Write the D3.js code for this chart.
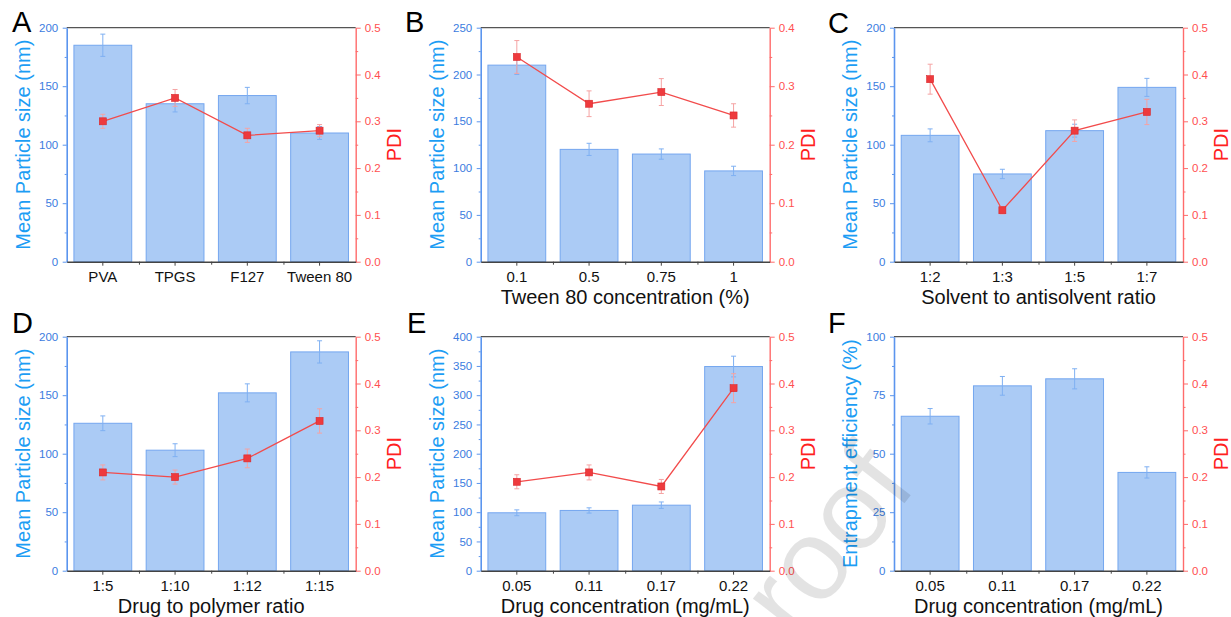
<!DOCTYPE html>
<html lang="en">
<head>
<meta charset="UTF-8">
<title>Formulation optimisation</title>
<style>
  body { margin: 0; background: #fff; }
  svg { display: block; font-family: Arial, "Liberation Sans", sans-serif; }
</style>
</head>
<body>
<svg id="fig" width="1231" height="617"></svg>
<script src="https://d3js.org/d3.v7.min.js"></script>
<script>
// A - stabilizer type
var catsA = ["PVA", "TPGS", "F127", "Tween 80"];
var sizeA = [185, 135, 142, 110];
var sizeErrA = [9.5, 7, 7, 5.5];
var pdiA = [0.30, 0.35, 0.27, 0.28];
var pdiErrA = [0.015, 0.018, 0.015, 0.013];

// B - Tween 80 concentration
var catsB = ["0.1", "0.5", "0.75", "1"];
var sizeB = [210, 120, 115, 97];
var sizeErrB = [10, 6.5, 5.5, 5];
var pdiB = [0.35, 0.27, 0.29, 0.25];
var pdiErrB = [0.028, 0.022, 0.023, 0.02];

// C - solvent : antisolvent
var catsC = ["1:2", "1:3", "1:5", "1:7"];
var sizeC = [108, 75, 112, 149];
var sizeErrC = [5.5, 4, 5.5, 7.7];
var pdiC = [0.39, 0.11, 0.28, 0.32];
var pdiErrC = [0.032, 0.008, 0.023, 0.027];

// D - drug : polymer
var catsD = ["1:5", "1:10", "1:12", "1:15"];
var sizeD = [126, 103, 152, 187];
var sizeErrD = [6.3, 5.5, 7.7, 9.5];
var pdiD = [0.21, 0.20, 0.24, 0.32];
var pdiErrD = [0.016, 0.015, 0.02, 0.026];

// E - drug concentration, size
var catsE = ["0.05", "0.11", "0.17", "0.22"];
var sizeE = [99, 103, 112, 349];
var sizeErrE = [5, 4.5, 5.5, 17.7];
var pdiE = [0.19, 0.21, 0.18, 0.39];
var pdiErrE = [0.015, 0.016, 0.015, 0.031];

// F - drug concentration, entrapment efficiency (no PDI series)
var catsF = ["0.05", "0.11", "0.17", "0.22"];
var eeF = [66, 79, 82, 42];
var eeErrF = [3.3, 4, 4.3, 2.4];

var svg = d3.select("#fig");

var colX = [66.7, 480.7, 894],
    rowY = [27.7, 336.7],
    plotW = 289,
    plotH = 234;

var panels = [
  { letter: "A", col: 0, row: 0, cats: catsA, bars: sizeA, barErr: sizeErrA, pdi: pdiA, pdiErr: pdiErrA,
    yMax: 200, yStep: 50, pdiMax: 0.5, yTitle: "Mean Particle size (nm)", xTitle: null },
  { letter: "B", col: 1, row: 0, cats: catsB, bars: sizeB, barErr: sizeErrB, pdi: pdiB, pdiErr: pdiErrB,
    yMax: 250, yStep: 50, pdiMax: 0.4, yTitle: "Mean Particle size (nm)", xTitle: "Tween 80 concentration (%)" },
  { letter: "C", col: 2, row: 0, cats: catsC, bars: sizeC, barErr: sizeErrC, pdi: pdiC, pdiErr: pdiErrC,
    yMax: 200, yStep: 50, pdiMax: 0.5, yTitle: "Mean Particle size (nm)", xTitle: "Solvent to antisolvent ratio" },
  { letter: "D", col: 0, row: 1, cats: catsD, bars: sizeD, barErr: sizeErrD, pdi: pdiD, pdiErr: pdiErrD,
    yMax: 200, yStep: 50, pdiMax: 0.5, yTitle: "Mean Particle size (nm)", xTitle: "Drug to polymer ratio" },
  { letter: "E", col: 1, row: 1, cats: catsE, bars: sizeE, barErr: sizeErrE, pdi: pdiE, pdiErr: pdiErrE,
    yMax: 400, yStep: 50, pdiMax: 0.5, yTitle: "Mean Particle size (nm)", xTitle: "Drug concentration (mg/mL)" },
  { letter: "F", col: 2, row: 1, cats: catsF, bars: eeF, barErr: eeErrF, pdi: null, pdiErr: null,
    yMax: 100, yStep: 25, pdiMax: 0.5, yTitle: "Entrapment efficiency (%)", xTitle: "Drug concentration (mg/mL)" }
];

var letterPos = { A: [12, 32], B: [405, 32], C: [828, 33], D: [12, 333], E: [407, 333], F: [828, 333] };

function drawPanel(p) {
  var left = colX[p.col], top = rowY[p.row];
  var g = svg.append("g").attr("transform", "translate(" + left + "," + top + ")");

  var x = d3.scaleBand().domain(p.cats).range([0, plotW]).paddingInner(0.2).paddingOuter(0.1);
  var y = d3.scaleLinear().domain([0, p.yMax]).range([plotH, 0]);
  var y2 = d3.scaleLinear().domain([0, p.pdiMax]).range([plotH, 0]);
  var cx = function(i) { return x(p.cats[i]) + x.bandwidth() / 2; };

  // bars
  g.selectAll(".bar")
    .data(p.bars)
    .enter().append("rect")
    .attr("x", function(d, i) { return x(p.cats[i]); })
    .attr("y", function(d) { return y(d); })
    .attr("width", x.bandwidth())
    .attr("height", function(d) { return plotH - y(d); })
    .attr("fill", "#abcbf5")
    .attr("stroke", "#74a6ef")
    .attr("stroke-width", 1);

  // bar error bars
  var be = g.selectAll(".berr")
    .data(p.bars)
    .enter().append("g")
    .attr("stroke", "#7fb0f2")
    .attr("stroke-width", 1);
  be.append("line")
    .attr("x1", function(d, i) { return cx(i); })
    .attr("x2", function(d, i) { return cx(i); })
    .attr("y1", function(d, i) { return y(d - p.barErr[i]); })
    .attr("y2", function(d, i) { return y(d + p.barErr[i]); });
  [-1, 1].forEach(function(s) {
    be.append("line")
      .attr("x1", function(d, i) { return cx(i) - 2.5; })
      .attr("x2", function(d, i) { return cx(i) + 2.5; })
      .attr("y1", function(d, i) { return y(d + s * p.barErr[i]); })
      .attr("y2", function(d, i) { return y(d + s * p.barErr[i]); });
  });

  // PDI series
  if (p.pdi) {
    var line = d3.line()
      .x(function(d, i) { return cx(i); })
      .y(function(d) { return y2(d); });
    g.append("path")
      .datum(p.pdi)
      .attr("d", line)
      .attr("fill", "none")
      .attr("stroke", "#f24b4b")
      .attr("stroke-width", 1.3);

    var pe = g.selectAll(".perr")
      .data(p.pdi)
      .enter().append("g")
      .attr("stroke", "#f5a3a3")
      .attr("stroke-width", 1);
    pe.append("line")
      .attr("x1", function(d, i) { return cx(i); })
      .attr("x2", function(d, i) { return cx(i); })
      .attr("y1", function(d, i) { return y2(d - p.pdiErr[i]); })
      .attr("y2", function(d, i) { return y2(d + p.pdiErr[i]); });
    [-1, 1].forEach(function(s) {
      pe.append("line")
        .attr("x1", function(d, i) { return cx(i) - 2.5; })
        .attr("x2", function(d, i) { return cx(i) + 2.5; })
        .attr("y1", function(d, i) { return y2(d + s * p.pdiErr[i]); })
        .attr("y2", function(d, i) { return y2(d + s * p.pdiErr[i]); });
    });

    g.selectAll(".mark")
      .data(p.pdi)
      .enter().append("rect")
      .attr("x", function(d, i) { return cx(i) - 3.5; })
      .attr("y", function(d) { return y2(d) - 3.5; })
      .attr("width", 7)
      .attr("height", 7)
      .attr("fill", "#ee3a3d")
      .attr("stroke", "#d9272b")
      .attr("stroke-width", 0.6);
  }

  // top frame
  g.append("line")
    .attr("x1", 0).attr("x2", plotW)
    .attr("y1", 0).attr("y2", 0)
    .attr("stroke", "#555").attr("stroke-width", 1.3);

  // left axis
  var majors = d3.range(0, p.yMax + 1e-9, p.yStep);
  var minors = d3.range(p.yStep / 2, p.yMax, p.yStep);
  var la = g.append("g")
    .call(d3.axisLeft(y).tickValues(majors).tickSize(4).tickSizeOuter(0).tickPadding(4.5));
  la.append("g").call(d3.axisLeft(y).tickValues(minors).tickSize(2).tickFormat(""))
    .select(".domain").remove();
  la.selectAll("line").attr("stroke", "#5b95ee");
  la.selectAll(".domain").attr("stroke", "#5b95ee").attr("stroke-width", 1.6);
  la.selectAll("text").attr("fill", "#3b7ce0").attr("font-size", "11.5px").attr("font-family", "Arial, 'Liberation Sans', sans-serif");

  // right axis
  var rMajors = d3.range(0, p.pdiMax + 1e-9, 0.1);
  var rMinors = d3.range(0.05, p.pdiMax, 0.1);
  var ra = g.append("g")
    .attr("transform", "translate(" + plotW + ",0)")
    .call(d3.axisRight(y2).tickValues(rMajors).tickSize(5).tickSizeOuter(0).tickPadding(4).tickFormat(d3.format(".1f")));
  ra.append("g").call(d3.axisRight(y2).tickValues(rMinors).tickSize(2.5).tickFormat(""))
    .select(".domain").remove();
  ra.selectAll("line").attr("stroke", "#ff6b6b");
  ra.selectAll(".domain").attr("stroke", "#ff6b6b").attr("stroke-width", 1.4);
  ra.selectAll("text").attr("fill", "#ff5050").attr("font-size", "11.5px").attr("font-family", "Arial, 'Liberation Sans', sans-serif");

  // bottom axis
  var ba = g.append("g")
    .attr("transform", "translate(0," + plotH + ")")
    .call(d3.axisBottom(x).tickSize(4).tickSizeOuter(0).tickPadding(5.3));
  ba.append("g").call(d3.axisBottom(d3.scaleLinear().domain([0, plotW]).range([0, plotW]))
      .tickValues(d3.range(1, p.cats.length).map(function(i) { return i * x.step(); }))
      .tickSize(3).tickFormat(""))
    .select(".domain").remove();
  ba.selectAll("line").attr("stroke", "#444");
  ba.selectAll(".domain").attr("stroke", "#444").attr("stroke-width", 1.4);
  ba.selectAll("text").attr("fill", "#111").attr("font-size", "15px").attr("font-family", "Arial, 'Liberation Sans', sans-serif");

  // titles
  g.append("text")
    .attr("transform", "translate(-37," + (plotH / 2) + ") rotate(-90)")
    .attr("text-anchor", "middle")
    .attr("font-size", "20px")
    .attr("fill", "#1c9df4")
    .text(p.yTitle);

  g.append("text")
    .attr("transform", "translate(" + (plotW + 45) + "," + (plotH / 2) + ") rotate(-90)")
    .attr("text-anchor", "middle")
    .attr("font-size", "20px")
    .attr("fill", "#ff2020")
    .text("PDI");

  if (p.xTitle) {
    g.append("text")
      .attr("x", plotW / 2)
      .attr("y", plotH + 42)
      .attr("text-anchor", "middle")
      .attr("font-size", "20px")
      .attr("fill", "#111")
      .text(p.xTitle);
  }

  svg.append("text")
    .attr("x", letterPos[p.letter][0])
    .attr("y", letterPos[p.letter][1])
    .attr("font-size", "29px")
    .attr("fill", "#000")
    .text(p.letter);
}

panels.forEach(drawPanel);

// journal watermark
svg.append("text")
  .attr("transform", "translate(918,486) rotate(-52)")
  .attr("text-anchor", "end")
  .attr("font-size", "115px")
  .attr("fill", "#000")
  .attr("fill-opacity", 0.11)
  .text("Journal Pre-proof");
</script>
</body>
</html>
